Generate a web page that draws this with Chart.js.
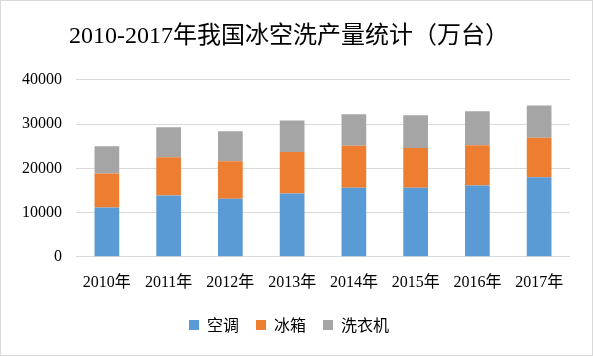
<!DOCTYPE html>
<html><head><meta charset="utf-8">
<script src="https://cdn.jsdelivr.net/npm/chart.js@4"></script>
<style>
html,body{margin:0;padding:0;background:#fff;}
#wrap{position:relative;width:591px;height:354px;border:1px solid #d9d9d9;}
</style></head>
<body><div id="wrap"><canvas id="c" width="591" height="354"></canvas></div>
<script>
const categories = ["2010年","2011年","2012年","2013年","2014年","2015年","2016年","2017年"];
const acValues = [11150, 13850, 13100, 14300, 15600, 15600, 16100, 18000];
const fridgeValues = [7650, 8650, 8500, 9400, 9500, 9000, 9100, 8900];
const washerValues = [6200, 6800, 6800, 7100, 7100, 7400, 7700, 7300];
const yTicks = [0, 10000, 20000, 30000, 40000];

const serif = "'Liberation Serif', 'Noto Sans CJK SC', serif";
new Chart(document.getElementById('c'), {
  type: 'bar',
  data: {
    labels: categories,
    datasets: [
      {label: '空调', data: acValues, backgroundColor: '#5B9BD5'},
      {label: '冰箱', data: fridgeValues, backgroundColor: '#ED7D31'},
      {label: '洗衣机', data: washerValues, backgroundColor: '#A5A5A5'}
    ]
  },
  options: {
    responsive: false,
    animation: false,
    devicePixelRatio: 1,
    layout: {padding: {left: 7, right: 22, top: 6, bottom: 12}},
    datasets: {bar: {categoryPercentage: 0.8, barPercentage: 0.5}},
    plugins: {
      title: {display: true, text: '2010-2017年我国冰空洗产量统计（万台）', color: '#000',
        font: {family: serif, size: 24, weight: 'normal'}, padding: {top: 15, bottom: 29}},
      legend: {position: 'bottom', labels: {boxWidth: 10, boxHeight: 10, color: '#000', padding: 17,
        font: {family: "'Noto Sans CJK SC', sans-serif", size: 16}}},
      tooltip: {enabled: false}
    },
    scales: {
      x: {stacked: true, grid: {display: false}, border: {display: false},
        ticks: {color: '#000', font: {family: serif, size: 16}, padding: 8}},
      y: {stacked: true, min: 0, max: 40000,
        afterBuildTicks: (s) => { s.ticks = yTicks.map(v => ({value: v})); },
        grid: {color: '#d9d9d9', drawTicks: false}, border: {display: false},
        ticks: {color: '#000', font: {family: serif, size: 16}, padding: 14,
          callback: (v) => String(v)}}
    }
  }
});
</script></body></html>
